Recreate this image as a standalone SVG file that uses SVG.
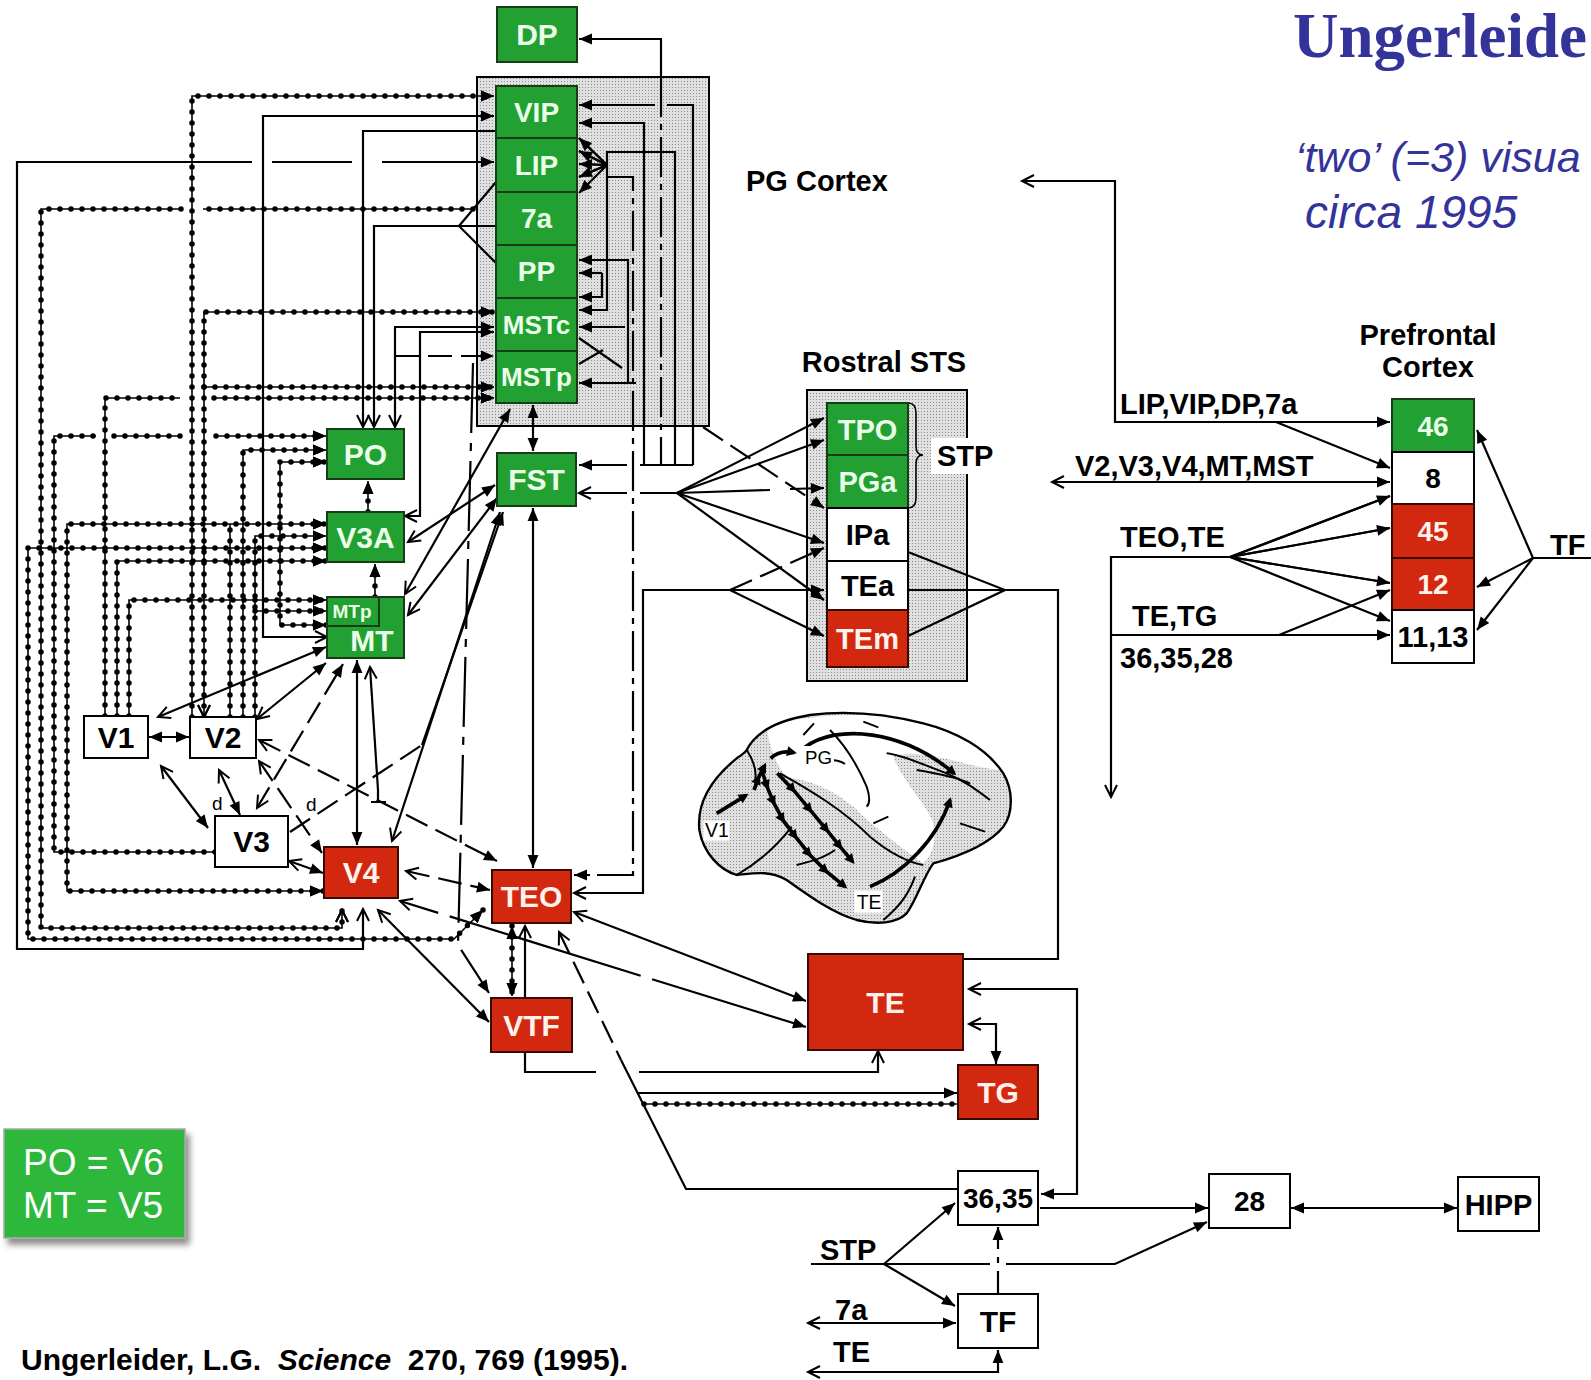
<svg xmlns="http://www.w3.org/2000/svg" xmlns:xlink="http://www.w3.org/1999/xlink" width="1591" height="1380" viewBox="0 0 1591 1380">
<defs>
<style>
.g{fill:#22a032;stroke:#163d16;stroke-width:2}
.r{fill:#d2280f;stroke:#3a0a00;stroke-width:2}
.w{fill:#fff;stroke:#000;stroke-width:2}
.t{font-family:"Liberation Sans",Arial,sans-serif;font-weight:bold;text-anchor:middle}
.tw{fill:#eaffea}
.tr{fill:#fff2ec}
.tk{fill:#000}
.lb{font-family:"Liberation Sans",Arial,sans-serif;font-weight:bold;font-size:29px;fill:#000}
.dsh{stroke-dasharray:24 9}
.dd{stroke-dasharray:40 7 6 7}
</style>
<marker id="af" viewBox="0 0 12 10" refX="12" refY="5" markerWidth="13" markerHeight="11" markerUnits="userSpaceOnUse" orient="auto-start-reverse" overflow="visible"><path d="M0,0L12,5L0,10z" fill="#000"/></marker>
<marker id="ao" viewBox="0 0 14 14" refX="13" refY="7" markerWidth="14" markerHeight="14" markerUnits="userSpaceOnUse" orient="auto-start-reverse" overflow="visible"><path d="M1,1L13,7L1,13" fill="none" stroke="#000" stroke-width="2"/></marker>
<marker id="bk" viewBox="0 0 10 10" refX="7" refY="5" markerWidth="36" markerHeight="30" markerUnits="userSpaceOnUse" orient="auto" overflow="visible"><path d="M0,0L10,5L0,10z" fill="#000"/></marker>
<pattern id="stip" width="3" height="3" patternUnits="userSpaceOnUse"><rect width="3" height="3" fill="#e0e0e0"/><rect width="1" height="1" fill="#8a8a8a"/></pattern>
<pattern id="stip3" width="9" height="9" patternUnits="userSpaceOnUse"><rect width="9" height="9" fill="#e0e0e0"/><rect width="3" height="3" fill="#8a8a8a"/></pattern>
<filter id="shadow" x="-10%" y="-10%" width="130%" height="140%"><feDropShadow dx="4" dy="6" stdDeviation="3" flood-color="#000" flood-opacity="0.45"/></filter>
<!-- dotted (beaded) wires: drawn twice, once as thin line, once as dots -->
<g id="dw">
<path d="M192,717 V96 H494" marker-end="url(#af)"/>
<path d="M204,717 V312 H494" marker-start="url(#ao)" marker-end="url(#af)"/>
<path d="M204,387 H494" marker-end="url(#af)"/>
<path d="M105,716 V398 H180 M214,398 H494" marker-end="url(#af)"/>
<path d="M473,209 H203 M181,209 H41 V928 H342 V910" marker-end="url(#ao)"/>
<path d="M215,852 H54 V436 H96 M114,436 H181 M216,436 H326" marker-end="url(#af)"/>
<path d="M243,717 V450 H326" marker-end="url(#af)"/>
<path d="M326,625 H280 V462 H326" marker-start="url(#af)" marker-end="url(#af)"/>
<path d="M323,891 H67 V524 H326" marker-start="url(#af)" marker-end="url(#af)"/>
<path d="M230,717 V524"/>
<path d="M255,717 V536 H326" marker-end="url(#af)"/>
<path d="M255,611 H326" marker-end="url(#af)"/>
<path d="M483,910 L454,939 H28 V548 H326" marker-start="url(#af)" marker-end="url(#af)"/>
<path d="M117,716 V561 H326" marker-end="url(#af)"/>
<path d="M129,716 V600 H326" marker-end="url(#af)"/>
<path d="M375,597 V564" marker-end="url(#af)"/>
<path d="M368,512 V481" marker-end="url(#af)"/>
<path d="M512,926 V996" marker-start="url(#af)" marker-end="url(#af)"/>
<path d="M644,1104 H957"/>
</g>
</defs>

<rect width="1591" height="1380" fill="#fff"/>

<!-- headings -->
<g id="title">
<text x="1293" y="57" font-family="Liberation Serif, Times New Roman, serif" font-weight="bold" font-size="63" fill="#333399">Ungerleide</text>
<text x="1295" y="172" font-family="Liberation Sans, Arial, sans-serif" font-style="italic" font-size="43" fill="#333399">‘two’ (=3) visua</text>
<text x="1305" y="228" font-family="Liberation Sans, Arial, sans-serif" font-style="italic" font-size="46" fill="#333399">circa 1995</text>
</g>

<!-- cortical regions (shaded frames) -->
<g id="pg-cortex-frame"><rect x="477" y="77" width="232" height="349" fill="url(#stip)" stroke="#000" stroke-width="2"/></g>
<g id="rostral-sts-frame"><rect x="807" y="390" width="160" height="291" fill="url(#stip)" stroke="#000" stroke-width="2"/></g>

<!-- lateral view of the macaque brain -->
<g id="brain" transform="translate(670,690) scale(0.33333)" fill="none" stroke="#000">
<path d="M230,180 C260,120 330,90 420,75 C520,62 640,70 760,100 C860,125 950,175 1000,250 C1030,300 1030,370 1000,410 C960,460 880,495 790,520 C760,560 740,630 710,670 C680,700 620,705 560,690 C490,670 420,620 350,570 C300,540 250,550 200,555 C150,540 100,490 88,420 C80,340 120,270 200,205 C215,195 225,188 230,180 Z" fill="url(#stip3)" stroke="none"/>
<path d="M290,110 C420,70 620,62 780,100 C880,125 950,170 990,240 C930,235 870,215 820,205 C760,190 700,185 670,200 C700,280 770,340 790,400 C800,450 790,490 760,520 C690,470 610,410 550,350 C490,300 420,270 350,262 C320,225 300,180 290,110 Z" fill="#fff" stroke="none"/>
<path d="M230,180 C260,120 330,90 420,75 C520,62 640,70 760,100 C860,125 950,175 1000,250 C1030,300 1030,370 1000,410 C960,460 880,495 790,520 C760,560 740,630 710,670 C680,700 620,705 560,690 C490,670 420,620 350,570 C300,540 250,550 200,555 C150,540 100,490 88,420 C80,340 120,270 200,205 C215,195 225,188 230,180 Z" stroke-width="7"/>
<g stroke-width="6">
<path d="M230,180 C250,210 262,240 255,275"/>
<path d="M330,250 C420,300 520,360 600,440 C660,490 720,520 760,525"/>
<path d="M480,120 C520,160 560,220 590,290 C600,320 600,340 590,350"/>
<path d="M650,190 C700,195 760,225 830,250 C880,270 920,300 960,330"/>
<path d="M740,240 C800,250 860,262 900,280"/>
<path d="M400,135 L432,100"/>
<path d="M580,95 L625,112"/>
<path d="M610,400 L655,380"/>
<path d="M870,400 L945,425"/>
<path d="M380,525 C420,515 460,505 495,480"/>
<path d="M480,210 C500,210 515,215 525,222"/>
<path d="M640,690 C700,640 720,600 735,560"/>
<path d="M200,555 C260,520 320,470 365,410"/>
</g>
<g stroke-width="11">
<path d="M140,370 L228,316" marker-end="url(#bk)"/>
<path d="M252,300 L266,262 L284,226" marker-mid="url(#bk)" marker-end="url(#bk)"/>
<path d="M302,205 C322,186 345,182 372,188" marker-end="url(#bk)"/>
<path d="M275,240 L292,292 L312,340 L340,392 L378,442 L420,495 L470,545 L525,590" marker-mid="url(#bk)" marker-end="url(#bk)"/>
<path d="M322,250 L372,302 L422,362 L472,422 L512,472 L548,515" marker-mid="url(#bk)" marker-end="url(#bk)"/>
<path d="M405,172 C500,100 700,120 852,250" marker-end="url(#bk)"/>
<path d="M600,590 C700,550 800,450 840,330" marker-end="url(#bk)"/>
</g>
<g stroke="none" font-family="Liberation Sans, Arial, sans-serif">
<rect x="100" y="392" width="78" height="60" fill="#fff"/>
<text x="105" y="442" font-size="58" fill="#000">V1</text>
<rect x="400" y="168" width="92" height="62" fill="#fff"/>
<text x="405" y="222" font-size="56" fill="#000">PG</text>
<rect x="553" y="602" width="85" height="66" fill="#fff"/>
<text x="560" y="658" font-size="58" fill="#000">TE</text>
</g>
</g>

<!-- connectors -->
<g id="connectors" fill="none" stroke="#000" stroke-width="2.2">
<g id="dotted-wires">
<use xlink:href="#dw" stroke-width="1.6"/>
<use xlink:href="#dw" stroke-width="5.5" stroke-linecap="round" stroke-dasharray="0 11"/>
</g>

<!-- long solid wires on the left -->
<path d="M363,909 V949 H17 V162 H252 M272,162 H352 M382,162 H494" marker-start="url(#ao)" marker-end="url(#af)"/>
<path d="M327,637 H263 V116 H494" marker-start="url(#ao)" marker-end="url(#af)"/>
<path d="M496,131 H363 V427" marker-end="url(#ao)"/>
<path d="M496,226 H374 V427" marker-end="url(#ao)"/>
<path d="M496,182 L459,226 L496,263"/>
<path d="M494,327 H395 V427" marker-start="url(#af)" marker-end="url(#ao)"/>
<path d="M405,516 H420 V332 H494" marker-start="url(#ao)" marker-end="url(#af)"/>
<path d="M395,356 H494" class="dsh" marker-end="url(#af)"/>

<!-- wiring inside the PG frame -->
<path d="M661,77 V39 H579" marker-end="url(#af)"/>
<path d="M661,77 V465" class="dd"/>
<path d="M693,465 V105 H667 M655,105 H579" marker-end="url(#af)"/>
<path d="M644,465 V123 H579" marker-end="url(#af)"/>
<path d="M675,465 V152 H607 V310 H579" marker-end="url(#af)"/>
<path d="M607,165 L579,138 M607,165 L579,151 M607,165 L579,164 M607,165 L579,177 M607,165 L579,193" marker-end="url(#af)"/>
<path d="M579,138 L607,165" marker-start="url(#af)"/>
<path d="M579,151 L607,165" marker-start="url(#af)"/>
<path d="M579,164 L607,165" marker-start="url(#af)"/>
<path d="M579,177 L607,165" marker-start="url(#af)"/>
<path d="M607,177 H633 V875 H574" class="dd" marker-end="url(#af)"/>
<path d="M628,383 V260 H579" marker-end="url(#af)"/>
<path d="M636,383 H579" marker-end="url(#af)"/>
<path d="M625,327 H579" marker-end="url(#af)"/>
<path d="M602,273 H579" marker-end="url(#af)"/>
<path d="M602,273 V297 H579" marker-end="url(#af)"/>
<path d="M579,338 L622,368 M579,364 L603,350"/>

<!-- FST links -->
<path d="M693,465 H640 M627,465 H579" marker-end="url(#af)"/>
<path d="M677,493 H640 M627,493 H579" marker-end="url(#ao)"/>
<path d="M677,493 L824,418" marker-end="url(#af)"/>
<path d="M677,493 L824,440" marker-end="url(#af)"/>
<path d="M677,493 L770,490 M790,489 L824,488" marker-end="url(#af)"/>
<path d="M677,493 L824,543" marker-end="url(#af)"/>
<path d="M677,493 L824,600" marker-end="url(#af)"/>
<path d="M703,427 L824,508" class="dsh" marker-end="url(#af)"/>
<path d="M533,405 V451" marker-start="url(#af)" marker-end="url(#af)"/>
<path d="M533,508 V868" marker-start="url(#af)" marker-end="url(#af)"/>
<path d="M405,594 L510,409" marker-start="url(#ao)" marker-end="url(#af)"/>
<path d="M408,542 L495,485" marker-start="url(#ao)" marker-end="url(#af)"/>
<path d="M408,615 L497,498" marker-start="url(#ao)" marker-end="url(#af)"/>
<path d="M500,512 L392,841" marker-start="url(#af)" marker-end="url(#ao)"/>
<path d="M290,832 L422,745" class="dsh"/>
<path d="M422,745 L503,512" marker-end="url(#af)"/>

<!-- rostral STS links -->
<path d="M574,893 H643 V590 H824" marker-start="url(#ao)" marker-end="url(#af)"/>
<path d="M730,590 L824,548" class="dsh" marker-end="url(#af)"/>
<path d="M730,590 L824,636" marker-end="url(#af)"/>
<path d="M908,552 L1005,590 L908,636 M908,590 H1058 V959 H963"/>
<path d="M908,403 Q916,403 916,413 L916,446 Q916,455 923,455 Q916,455 916,464 L916,498 Q916,508 908,508" stroke-width="1.6"/>

<!-- early visual areas -->
<path d="M149,737 H189" marker-start="url(#af)" marker-end="url(#af)"/>
<path d="M158,717 L326,647" marker-start="url(#ao)" marker-end="url(#af)"/>
<path d="M257,719 L326,663" marker-start="url(#ao)" marker-end="url(#af)"/>
<path d="M257,808 L343,664" class="dsh" marker-start="url(#ao)" marker-end="url(#af)"/>
<path d="M378,790 L370,667" marker-end="url(#ao)"/>
<path d="M378,790 V802 M371,802 H386"/>
<path d="M357,660 V845" marker-start="url(#af)" marker-end="url(#af)"/>
<path d="M161,766 L208,828" marker-start="url(#ao)" marker-end="url(#af)"/>
<path d="M219,770 L240,815" marker-start="url(#ao)" marker-end="url(#af)"/>
<path d="M259,761 L322,853" class="dsh" marker-start="url(#ao)" marker-end="url(#af)"/>
<path d="M289,861 L323,873" marker-start="url(#ao)" marker-end="url(#af)"/>
<path d="M259,740 L497,861" class="dsh" marker-start="url(#ao)" marker-end="url(#af)"/>
<path d="M406,871 L490,890" class="dsh" marker-start="url(#ao)" marker-end="url(#af)"/>
<path d="M473,363 L458,945 L489,993" stroke-dasharray="70 10 8 10" marker-end="url(#af)"/>

<!-- ventral stream -->
<path d="M378,910 L489,1022" marker-start="url(#ao)" marker-end="url(#af)"/>
<path d="M400,901 L806,1027" stroke-dasharray="40 12 200 12 600" marker-start="url(#ao)" marker-end="url(#af)"/>
<path d="M574,912 L806,1001" marker-start="url(#ao)" marker-end="url(#af)"/>
<path d="M525,997 V926" marker-end="url(#ao)"/>
<path d="M525,1052 V1072 H596 M639,1072 H878 V1051" marker-end="url(#ao)"/>
<path d="M559,932 L621,1060" class="dsh" marker-start="url(#ao)"/>
<path d="M621,1060 L686,1189 H958"/>
<path d="M638,1093 H957" marker-end="url(#af)"/>
<path d="M969,1024 H996 V1064" marker-start="url(#ao)" marker-end="url(#af)"/>
<path d="M969,989 H1077 V1194 H1041" marker-start="url(#ao)" marker-end="url(#af)"/>

<!-- medial temporal links -->
<path d="M1040,1208 H1208" marker-end="url(#af)"/>
<path d="M1291,1208 H1457" marker-start="url(#af)" marker-end="url(#af)"/>
<path d="M811,1264 H990 M1006,1264 H1115 L1207,1222" marker-end="url(#af)"/>
<path d="M884,1264 L955,1203" marker-end="url(#af)"/>
<path d="M884,1264 L955,1306" marker-end="url(#af)"/>
<path d="M998,1293 V1227" stroke-dasharray="22 8 6 8" marker-end="url(#af)"/>
<path d="M808,1323 H956" marker-start="url(#ao)" marker-end="url(#af)"/>
<path d="M808,1372 H998 V1350" marker-start="url(#ao)" marker-end="url(#af)"/>

<!-- prefrontal inputs -->
<path d="M1022,181 H1115 V422 H1390" marker-start="url(#ao)" marker-end="url(#af)"/>
<path d="M1276,422 L1390,468" marker-end="url(#af)"/>
<path d="M1052,482 H1390" marker-start="url(#ao)" marker-end="url(#af)"/>
<path d="M1111,797 V557 H1230" marker-start="url(#ao)"/>
<path d="M1230,557 L1390,496 M1230,557 L1390,528 M1230,557 L1390,583 M1230,557 L1390,621" marker-end="url(#af)"/>
<path d="M1390,496 L1230,557" marker-start="url(#af)"/>
<path d="M1390,528 L1230,557" marker-start="url(#af)"/>
<path d="M1390,583 L1230,557" marker-start="url(#af)"/>
<path d="M1111,635 H1390" marker-end="url(#af)"/>
<path d="M1279,635 L1390,590" marker-end="url(#af)"/>
<path d="M1591,558 H1533"/>
<path d="M1533,558 L1477,430" marker-end="url(#af)"/>
<path d="M1533,558 L1477,587" marker-end="url(#af)"/>
<path d="M1533,558 L1477,630" marker-end="url(#af)"/>
</g>

<!-- parietal column -->
<g id="node-DP"><rect class="g" x="497" y="7" width="80" height="55"/><text class="t tw" x="537" y="45" font-size="30">DP</text></g>
<g id="node-VIP"><rect class="g" x="496" y="86" width="81" height="52"/><text class="t tw" x="536.5" y="122" font-size="28">VIP</text></g>
<g id="node-LIP"><rect class="g" x="496" y="138" width="81" height="54"/><text class="t tw" x="536.5" y="175" font-size="28">LIP</text></g>
<g id="node-7a"><rect class="g" x="496" y="192" width="81" height="53"/><text class="t tw" x="536.5" y="228" font-size="28">7a</text></g>
<g id="node-PP"><rect class="g" x="496" y="245" width="81" height="53"/><text class="t tw" x="536.5" y="281" font-size="28">PP</text></g>
<g id="node-MSTc"><rect class="g" x="496" y="298" width="81" height="53"/><text class="t tw" x="536.5" y="334" font-size="26">MSTc</text></g>
<g id="node-MSTp"><rect class="g" x="496" y="351" width="81" height="52"/><text class="t tw" x="536.5" y="386" font-size="26">MSTp</text></g>
<g id="label-PG"><text class="lb" x="746" y="191">PG Cortex</text></g>

<!-- dorsal / early areas -->
<g id="node-PO"><rect class="g" x="327" y="429" width="77" height="50"/><text class="t tw" x="365.5" y="465" font-size="30">PO</text></g>
<g id="node-V3A"><rect class="g" x="327" y="512" width="77" height="50"/><text class="t tw" x="365.5" y="548" font-size="30">V3A</text></g>
<g id="node-MT"><rect class="g" x="327" y="597" width="77" height="61"/><rect class="g" x="327" y="597" width="52" height="29"/><text class="t tw" x="352" y="618" font-size="19" font-weight="normal">MTp</text><text class="t tw" x="372" y="651" font-size="30">MT</text></g>
<g id="node-FST"><rect class="g" x="497" y="453" width="79" height="53"/><text class="t tw" x="536.5" y="490" font-size="30">FST</text></g>
<g id="node-V1"><rect class="w" x="84" y="716" width="64" height="42"/><text class="t tk" x="116" y="748" font-size="30">V1</text></g>
<g id="node-V2"><rect class="w" x="190" y="717" width="66" height="41"/><text class="t tk" x="223" y="748" font-size="30">V2</text></g>
<g id="node-V3"><rect class="w" x="215" y="816" width="73" height="51"/><text class="t tk" x="251.5" y="852" font-size="30">V3</text></g>
<g id="node-V4"><rect class="r" x="324" y="847" width="74" height="51"/><text class="t tr" x="361" y="883" font-size="30">V4</text></g>
<g id="labels-d" font-family="Liberation Sans, Arial, sans-serif" font-size="19" fill="#000"><text x="212" y="810">d</text><text x="306" y="811">d</text></g>

<!-- temporal areas -->
<g id="node-TEO"><rect class="r" x="492" y="870" width="79" height="53"/><text class="t tr" x="531.5" y="907" font-size="30">TEO</text></g>
<g id="node-VTF"><rect class="r" x="491" y="998" width="81" height="54"/><text class="t tr" x="531.5" y="1036" font-size="30">VTF</text></g>
<g id="node-TE"><rect class="r" x="808" y="954" width="155" height="96"/><text class="t tr" x="885.5" y="1013" font-size="30">TE</text></g>
<g id="node-TG"><rect class="r" x="958" y="1065" width="80" height="54"/><text class="t tr" x="998" y="1103" font-size="30">TG</text></g>
<g id="node-36-35"><rect class="w" x="958" y="1171" width="80" height="54"/><text class="t tk" x="998" y="1208" font-size="28">36,35</text></g>
<g id="node-TF"><rect class="w" x="958" y="1294" width="80" height="54"/><text class="t tk" x="998" y="1332" font-size="30">TF</text></g>
<g id="node-28"><rect class="w" x="1209" y="1174" width="81" height="54"/><text class="t tk" x="1249.5" y="1211" font-size="28">28</text></g>
<g id="node-HIPP"><rect class="w" x="1458" y="1177" width="81" height="54"/><text class="t tk" x="1498.5" y="1215" font-size="29">HIPP</text></g>
<g id="labels-mtl" class="lb"><text x="820" y="1260">STP</text><text x="835" y="1320">7a</text><text x="833" y="1362">TE</text></g>

<!-- rostral STS -->
<g id="label-rostral"><text class="lb" x="884" y="372" text-anchor="middle">Rostral STS</text></g>
<g id="node-TPO"><rect class="g" x="827" y="403" width="81" height="52"/><text class="t tw" x="867.5" y="440" font-size="29">TPO</text></g>
<g id="node-PGa"><rect class="g" x="827" y="455" width="81" height="53"/><text class="t tw" x="867.5" y="492" font-size="29">PGa</text></g>
<g id="node-IPa"><rect class="w" x="827" y="508" width="81" height="53"/><text class="t tk" x="867.5" y="545" font-size="29">IPa</text></g>
<g id="node-TEa"><rect class="w" x="827" y="561" width="81" height="49"/><text class="t tk" x="867.5" y="596" font-size="29">TEa</text></g>
<g id="node-TEm"><rect class="r" x="827" y="610" width="81" height="57"/><text class="t tr" x="867.5" y="649" font-size="29">TEm</text></g>
<g id="label-STP"><rect x="931" y="438" width="66" height="36" fill="#fff"/><text class="lb" x="937" y="466">STP</text></g>

<!-- prefrontal cortex -->
<g id="label-prefrontal" class="lb" text-anchor="middle"><text x="1428" y="345">Prefrontal</text><text x="1428" y="377">Cortex</text></g>
<g id="node-46"><rect class="g" x="1392" y="399" width="82" height="53"/><text class="t tw" x="1433" y="436" font-size="28">46</text></g>
<g id="node-8"><rect class="w" x="1392" y="452" width="82" height="52"/><text class="t tk" x="1433" y="488" font-size="28">8</text></g>
<g id="node-45"><rect class="r" x="1392" y="504" width="82" height="54"/><text class="t tr" x="1433" y="541" font-size="28">45</text></g>
<g id="node-12"><rect class="r" x="1392" y="558" width="82" height="52"/><text class="t tr" x="1433" y="594" font-size="28">12</text></g>
<g id="node-11-13"><rect class="w" x="1392" y="610" width="82" height="53"/><text class="t tk" x="1433" y="647" font-size="29">11,13</text></g>
<g id="labels-prefrontal-inputs" class="lb">
<text x="1120" y="414">LIP,VIP,DP,7a</text>
<text x="1075" y="476">V2,V3,V4,MT,MST</text>
<text x="1120" y="547">TEO,TE</text>
<text x="1132" y="626">TE,TG</text>
<text x="1120" y="668">36,35,28</text>
<text x="1550" y="555">TF</text>
</g>

<!-- legend and reference -->
<g id="legend"><rect x="4" y="1129" width="181" height="109" fill="#2eb83b" stroke="#a8a8a8" stroke-width="1.5" filter="url(#shadow)"/>
<text x="23" y="1175" font-family="Liberation Sans, Arial, sans-serif" font-size="37" fill="#fff">PO = V6</text>
<text x="23" y="1218" font-family="Liberation Sans, Arial, sans-serif" font-size="37" fill="#fff">MT = V5</text></g>
<g id="citation"><text x="21" y="1370" font-family="Liberation Sans, Arial, sans-serif" font-weight="bold" font-size="30" fill="#000" style="white-space:pre">Ungerleider, L.G.  <tspan font-style="italic">Science</tspan>  270, 769 (1995).</text></g>
</svg>
